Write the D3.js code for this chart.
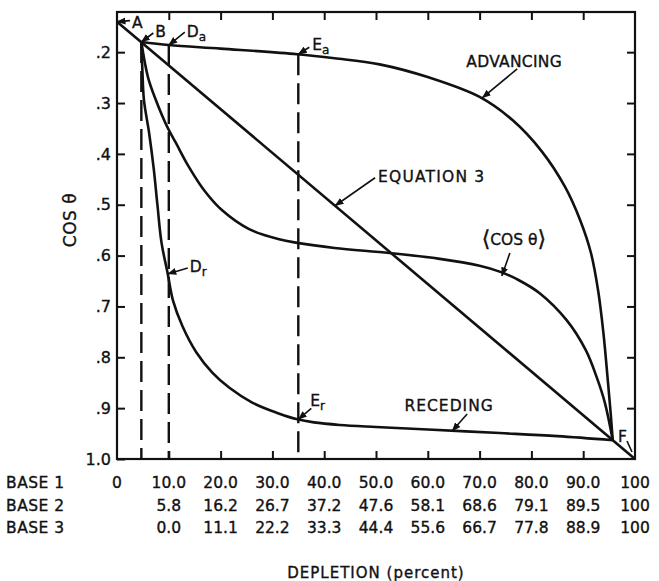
<!DOCTYPE html>
<html>
<head>
<meta charset="utf-8">
<script src="https://cdn.jsdelivr.net/npm/d3@7"></script>
<style>
    body { margin: 0; background: #fff; }
    text { font-family: "DejaVu Sans", sans-serif; fill: #111; stroke: #111; stroke-width: 0.35px; }
</style>
</head>
<body>
<div id="chart-area"></div>
<script>
// depletion (percent) vs cos theta
var xTicks = [0, 10, 20, 30, 40, 50, 60, 70, 80, 90, 100];
var yTicks = [0.2, 0.3, 0.4, 0.5, 0.6, 0.7, 0.8, 0.9, 1.0];

var base1Labels = ["0", "10.0", "20.0", "30.0", "40.0", "50.0", "60.0", "70.0", "80.0", "90.0", "100"];
var base2Labels = ["5.8", "16.2", "26.7", "37.2", "47.6", "58.1", "68.6", "79.1", "89.5", "100"];
var base3Labels = ["0.0", "11.1", "22.2", "33.3", "44.4", "55.6", "66.7", "77.8", "88.9", "100"];

var equation3 = [[0, 0.14], [100, 1.0]];

var advancing = [[4.7, 0.18], [10, 0.186], [20, 0.193], [34.8, 0.204], [42, 0.212], [50.7, 0.224],
    [60.3, 0.25], [70, 0.288], [76.4, 0.334], [82, 0.395], [86.5, 0.465], [89.4, 0.53],
    [91.5, 0.595], [92.9, 0.67], [93.9, 0.752], [94.8, 0.851], [95.3, 0.91], [95.7, 0.963]];

var meanCos = [[4.7, 0.18], [6.0, 0.25], [7.5, 0.294], [9.7, 0.347], [11.4, 0.379], [13.9, 0.426],
    [17, 0.474], [20.3, 0.511], [25.5, 0.548], [31.3, 0.568], [34.8, 0.575], [42, 0.585],
    [52.6, 0.595], [62, 0.606], [70, 0.62], [74, 0.632], [77.5, 0.648], [81.6, 0.674],
    [86.8, 0.727], [90.5, 0.786], [92.6, 0.839], [94.2, 0.89], [95.7, 0.963]];

var receding = [[4.7, 0.18], [4.9, 0.235], [5.2, 0.294], [6.2, 0.359], [7.1, 0.43], [7.8, 0.5],
    [8.6, 0.575], [9.8, 0.636], [10.8, 0.688], [12.6, 0.738], [15.3, 0.79], [18.4, 0.83],
    [21.7, 0.86], [26.1, 0.889], [30.8, 0.909], [34.8, 0.922], [38, 0.928], [43, 0.933],
    [50, 0.937], [60, 0.942], [73.9, 0.949], [85, 0.955], [95.7, 0.963]];

// dashed verticals at B, Da, Ea
var dashX = [4.7, 10, 35];
var dashTop = [0.18, 0.186, 0.204];

var margin = { left: 117, top: 12 },
    width = 518, height = 447;

var svg = d3.select("#chart-area")
    .append("svg")
    .attr("width", 659)
    .attr("height", 581);
svg.append("rect").attr("width", 659).attr("height", 581).attr("fill", "#fff");

var defs = svg.append("defs");
defs.append("marker")
    .attr("id", "arrow")
    .attr("viewBox", "0 -4 9 8")
    .attr("refX", 8.5).attr("refY", 0)
    .attr("markerUnits", "userSpaceOnUse")
    .attr("markerWidth", 9).attr("markerHeight", 8)
    .attr("orient", "auto")
    .append("path")
    .attr("d", "M0,-3.5L9,0L0,3.5Z")
    .attr("fill", "#111");

var g = svg.append("g")
    .attr("transform", "translate(" + margin.left + "," + margin.top + ")");

// Scales
var x = d3.scaleLinear().domain([0, 100]).range([0, width]);
var y = d3.scaleLinear().domain([0.121, 1.0]).range([0, height]);

// Axes (inward ticks on all four sides)
function styleAxis(sel) {
    sel.select(".domain").remove();
    sel.selectAll(".tick line").attr("stroke", "#111").attr("stroke-width", 2);
}
var yFmt = function(d) { return d === 1 ? "1.0" : d3.format(".1f")(d).slice(1); };

g.append("g")
    .call(d3.axisLeft(y).tickValues(yTicks).tickSize(-8).tickPadding(6).tickFormat(yFmt))
    .call(styleAxis)
    .selectAll("text")
    .attr("font-size", "16px")
    .attr("font-family", "DejaVu Sans, sans-serif")
    .attr("fill", "#111");
g.append("g")
    .attr("transform", "translate(" + width + ",0)")
    .call(d3.axisRight(y).tickValues(yTicks.slice(0, -1)).tickSize(-8).tickFormat(""))
    .call(styleAxis);
g.append("g")
    .call(d3.axisTop(x).tickValues(xTicks.slice(1, -1)).tickSize(-8).tickFormat(""))
    .call(styleAxis);
g.append("g")
    .attr("transform", "translate(0," + height + ")")
    .call(d3.axisBottom(x).tickValues(xTicks.slice(1, -1)).tickSize(-8).tickFormat(""))
    .call(styleAxis);

g.append("rect")
    .attr("width", width).attr("height", height)
    .attr("fill", "none").attr("stroke", "#111").attr("stroke-width", 2.2);

// Dashed lines
g.selectAll(".dash").data(dashX).enter()
    .append("line")
    .attr("class", "dash")
    .attr("x1", function(d) { return x(d); })
    .attr("x2", function(d) { return x(d); })
    .attr("y1", function(d, i) { return y(dashTop[i]); })
    .attr("y2", y(1.0))
    .attr("stroke", "#111")
    .attr("stroke-width", 2.4)
    .attr("stroke-dasharray", "21,8");

// Curves
var line = d3.line()
    .x(function(d) { return x(d[0]); })
    .y(function(d) { return y(d[1]); })
    .curve(d3.curveCatmullRom.alpha(0.5));

[equation3, advancing, meanCos, receding].forEach(function(s) {
    g.append("path")
        .attr("d", line(s))
        .attr("fill", "none")
        .attr("stroke", "#111")
        .attr("stroke-width", 2.6)
        .attr("stroke-linejoin", "round");
});

// Annotations: tip in data units, tail and text offsets in px
var notes = [
    { t: "A", tip: [0, 0.14], tail: [13, -1], txt: [15, 6] },
    { t: "B", tip: [4.7, 0.18], tail: [12, -9], txt: [14, -5] },
    { t: "D", sub: "a", tip: [10, 0.186], tail: [16, -13], txt: [18, -8] },
    { t: "E", sub: "a", tip: [35, 0.204], tail: [11, -7], txt: [14, -4] },
    { t: "D", sub: "r", tip: [9.8, 0.636], tail: [20, -6], txt: [22, -2] },
    { t: "E", sub: "r", tip: [35, 0.922], tail: [13, -11], txt: [12, -13] },
    { t: "ADVANCING", tip: [70.5, 0.29], tail: [35, -29], txt: [32, -31], mid: true, ls: 0.3 },
    { t: "EQUATION 3", tip: [42.1, 0.502], tail: [40, -28], txt: [43, -24], ls: 1.2 },
    { t: "RECEDING", tip: [64.7, 0.945], tail: [15, -17], txt: [-3, -20], mid: true, ls: 1 }
];

notes.forEach(function(n) {
    var px = x(n.tip[0]), py = y(n.tip[1]);
    g.append("line")
        .attr("x1", px + n.tail[0]).attr("y1", py + n.tail[1])
        .attr("x2", px).attr("y2", py)
        .attr("stroke", "#111").attr("stroke-width", 1.6)
        .attr("marker-end", "url(#arrow)");
    var tx = g.append("text")
        .attr("x", px + n.txt[0]).attr("y", py + n.txt[1])
        .attr("font-size", "15.5px")
        .attr("letter-spacing", (n.ls || 0) + "px")
        .attr("text-anchor", n.mid ? "middle" : "start")
        .text(n.t);
    if (n.sub) {
        tx.append("tspan").attr("dy", 4).attr("font-size", "12px").text(n.sub);
    }
});

// <cos theta> label with tall angle brackets
var cx = x(74.3), cy = y(0.64);
g.append("line")
    .attr("x1", cx + 8).attr("y1", cy - 23)
    .attr("x2", cx).attr("y2", cy)
    .attr("stroke", "#111").attr("stroke-width", 1.6)
    .attr("marker-end", "url(#arrow)");
var ct = g.append("text")
    .attr("x", cx + 12).attr("y", cy - 31)
    .attr("text-anchor", "middle")
    .attr("font-size", "15.5px");
ct.append("tspan").attr("font-size", "22px").attr("dy", 1).text("\u27E8");
ct.append("tspan").attr("dy", -1).text("COS \u03B8");
ct.append("tspan").attr("font-size", "22px").attr("dy", 1).text("\u27E9");

// F label at lower right
var fx = x(100), fy = y(1.0);
g.append("line")
    .attr("x1", fx - 8).attr("y1", fy - 18)
    .attr("x2", fx - 3).attr("y2", fy - 7)
    .attr("stroke", "#111").attr("stroke-width", 1.6);
g.append("text")
    .attr("x", fx - 17).attr("y", fy - 17)
    .attr("font-size", "15.5px")
    .text("F");

// Axis titles
svg.append("text")
    .attr("transform", "translate(76,220) rotate(-90)")
    .attr("text-anchor", "middle")
    .attr("font-size", "17px")
    .attr("letter-spacing", "0.5px")
    .text("COS \u03B8");

svg.append("text")
    .attr("x", 376).attr("y", 578)
    .attr("text-anchor", "middle")
    .attr("font-size", "15px")
    .attr("letter-spacing", "1px")
    .text("DEPLETION (percent)");

// BASE rows under the x axis
var rows = [
    { name: "BASE 1", labels: base1Labels, from: 0 },
    { name: "BASE 2", labels: base2Labels, from: 1 },
    { name: "BASE 3", labels: base3Labels, from: 1 }
];
rows.forEach(function(r, k) {
    var by = height + 29 + k * 22.5;
    g.append("text")
        .attr("x", 6 - margin.left).attr("y", by)
        .attr("font-size", "15.5px")
        .attr("letter-spacing", "0.5px")
        .text(r.name);
    g.selectAll(".row" + k).data(r.labels).enter()
        .append("text")
        .attr("class", "row" + k)
        .attr("x", function(d, i) { return x(xTicks[i + r.from]); })
        .attr("y", by)
        .attr("text-anchor", "middle")
        .attr("font-size", "15.5px")
        .text(function(d) { return d; });
});
</script>
</body>
</html>
